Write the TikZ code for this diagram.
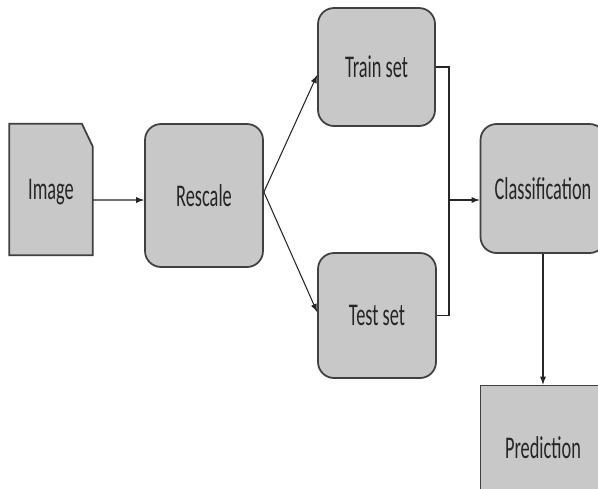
\documentclass[tikz,border=0pt]{standalone}
\usepackage{fontspec}
\setmainfont{Carlito}[FakeStretch=0.58]
\usepackage{tikz}
\usetikzlibrary{shapes,arrows,positioning}
\usepackage{xcolor}
\definecolor{boxgray}{RGB}{200,200,200}
\definecolor{edgegray}{RGB}{64,64,64}
\definecolor{txtgray}{RGB}{38,38,38}

\tikzset{
  stage/.style={draw=edgegray, line width=1pt, fill=boxgray, rectangle, rounded corners=0.32cm,
    text=txtgray, font=\fontsize{18}{20}\selectfont},
  label/.style={text=txtgray, font=\fontsize{18}{20}\selectfont},
  flow/.style={->, >=latex, line width=0.6pt, black!85}
}

\begin{document}
\begin{tikzpicture}[x=0.02cm, y=-0.02cm]
\useasboundingbox (0,0) rectangle (598,488);
\clip (0,0) rectangle (598,488);
% Nodes
\node[minimum width=1.66cm, minimum height=2.62cm, inner sep=0pt] (img) at (51,189.5) {};
\draw[draw=edgegray, line width=1pt, fill=boxgray] (img.north west) -- ([xshift=-0.22cm]img.north east)
  -- ([yshift=-0.46cm]img.north east) -- (img.south east) -- (img.south west) -- cycle;
\node[label] at ([yshift=-0.06cm]img.center) {Image};
\node[stage, minimum width=2.36cm, minimum height=2.86cm] (rescale) at (204,195.5) {Rescale};
\node[stage, minimum width=2.34cm, minimum height=2.36cm] (train) at (376.5,67) {Train set};
\node[stage, minimum width=2.36cm, minimum height=2.5cm] (test) at (377,315.5) {Test set};
\node[stage, minimum width=2.5cm, minimum height=2.58cm] (cls) at (543,188.5) {Classification};
\node[stage, rounded corners=0pt, minimum width=2.5cm, minimum height=2.5cm] (pred) at (543,448) {Prediction};

% Connectors
\coordinate (join) at (449,200);
\draw[flow] ([yshift=-0.21cm]img.east) -- ([yshift=-0.09cm]rescale.west);
\draw[flow] ([yshift=0.07cm]rescale.east) -- ([yshift=-0.16cm]train.west);
\draw[flow] ([yshift=0.07cm]rescale.east) -- ([yshift=0.07cm]test.west);
\draw[line width=0.6pt, black!85] (train.east) -| (join) |- (test.east);
\draw[flow] (join) -- (cls.west |- join);
\draw[flow] (cls.south) -- (pred.north);
\end{tikzpicture}
\end{document}
